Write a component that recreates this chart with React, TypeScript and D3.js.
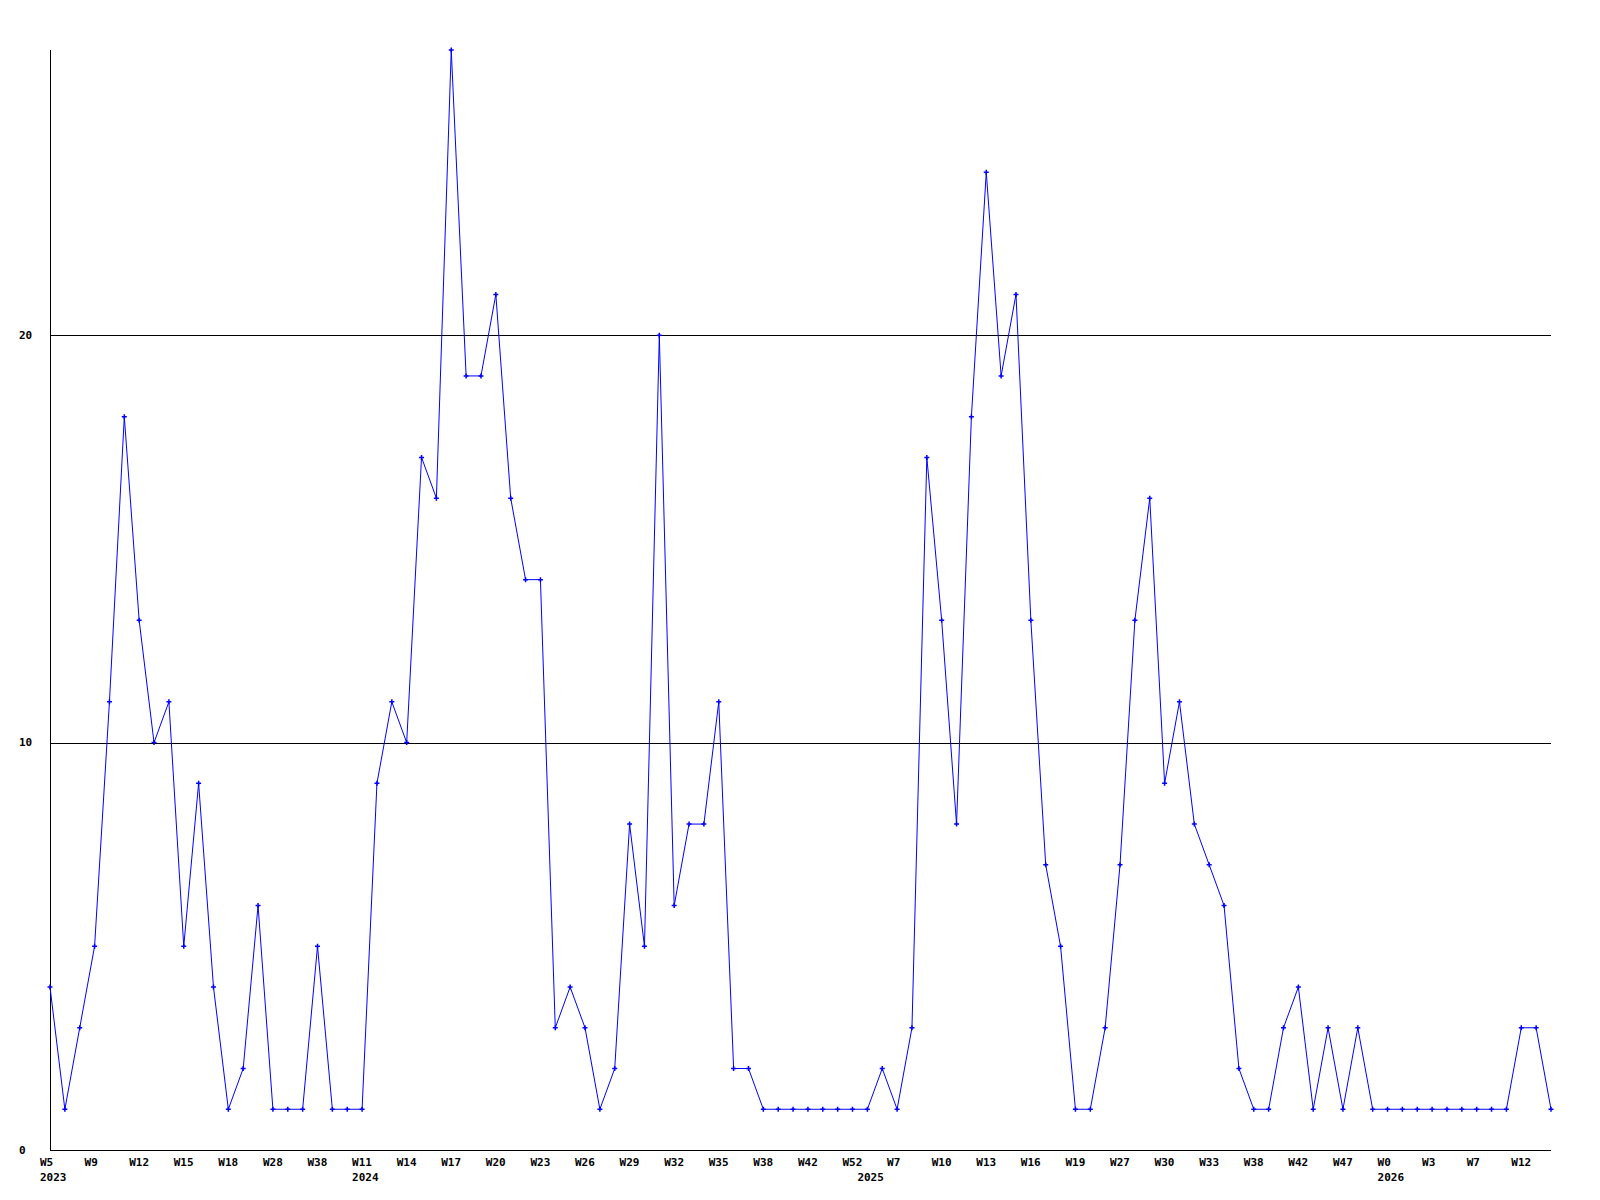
import React from "react";
import * as d3 from "d3";

const values: number[] = [
  4, 1, 3, 5, 11, 18, 13, 10, 11, 5,
  9, 4, 1, 2, 6, 1, 1, 1, 5, 1,
  1, 1, 9, 11, 10, 17, 16, 27, 19, 19,
  21, 16, 14, 14, 3, 4, 3, 1, 2, 8,
  5, 20, 6, 8, 8, 11, 2, 2, 1, 1,
  1, 1, 1, 1, 1, 1, 2, 1, 3, 17,
  13, 8, 18, 24, 19, 21, 13, 7, 5, 1,
  1, 3, 7, 13, 16, 9, 11, 8, 7, 6,
  2, 1, 1, 3, 4, 1, 3, 1, 3, 1,
  1, 1, 1, 1, 1, 1, 1, 1, 1, 3,
  3, 1,
];

const weekTickIndex: number[] = [
  0, 3, 6, 9, 12, 15, 18, 21, 24, 27, 30, 33, 36, 39, 42, 45, 48,
  51, 54, 57, 60, 63, 66, 69, 72, 75, 78, 81, 84, 87, 90, 93, 96, 99,
];
const weekTickLabels: string[] = [
  "W5", "W9", "W12", "W15", "W18", "W28", "W38", "W11", "W14", "W17", "W20",
  "W23", "W26", "W29", "W32", "W35", "W38", "W42", "W52", "W7", "W10", "W13",
  "W16", "W19", "W27", "W30", "W33", "W38", "W42", "W47", "W0", "W3", "W7", "W12",
];
const yearIndex: number[] = [0, 21, 55, 90];
const yearLabels: string[] = ["2023", "2024", "2025", "2026"];
const yTicks: number[] = [0, 10, 20];
const yMax = 27;

export default function App() {
  const W = 1600, H = 1200;
  const left = 50, right = 1551, top = 50, bottom = 1150;
  const x = d3.scaleLinear().domain([0, values.length - 1]).range([left, right]);
  const y = d3.scaleLinear().domain([0, yMax]).range([bottom, top]);
  const line = d3
    .line<number>()
    .x((_, i) => x(i))
    .y((d) => y(d));
  const font = "'DejaVu Sans Mono', 'Liberation Mono', monospace";
  return (
    <svg
      width={W}
      height={H}
      style={{ position: "absolute", left: 0, top: 0, background: "#fff" }}
      xmlns="http://www.w3.org/2000/svg"
    >
      <rect x={0} y={0} width={W} height={H} fill="#fff" />
      {yTicks
        .filter((t) => t > 0)
        .map((t) => (
          <line
            key={"g" + t}
            x1={left}
            x2={right}
            y1={Math.round(y(t)) + 0.5}
            y2={Math.round(y(t)) + 0.5}
            stroke="#000"
            strokeWidth={1}
          />
        ))}
      <line x1={left + 0.5} x2={left + 0.5} y1={top} y2={bottom + 0.5} stroke="#000" strokeWidth={1} />
      <line x1={left} x2={right} y1={bottom + 0.5} y2={bottom + 0.5} stroke="#000" strokeWidth={1} />
      {yTicks.map((t) => (
        <text
          key={"y" + t}
          x={19}
          y={y(t)}
          dy="0.35em"
          fontFamily={font}
          fontWeight="bold"
          fontSize={11}
          fill="#000"
        >
          {t}
        </text>
      ))}
      {weekTickIndex.map((idx, k) => (
        <text
          key={"w" + k}
          x={x(idx) - 10}
          y={1162}
          dy="0.35em"
          fontFamily={font}
          fontWeight="bold"
          fontSize={11}
          fill="#000"
        >
          {weekTickLabels[k]}
        </text>
      ))}
      {yearIndex.map((idx, k) => (
        <text
          key={"yr" + k}
          x={x(idx) - 10}
          y={1177}
          dy="0.35em"
          fontFamily={font}
          fontWeight="bold"
          fontSize={11}
          fill="#000"
        >
          {yearLabels[k]}
        </text>
      ))}
      <path d={line(values) || ""} fill="none" stroke="#0000ff" strokeWidth={1} />
      {values.map((v, i) => {
        const cx = x(i), cy = y(v);
        return (
          <path
            key={"m" + i}
            d={`M${cx - 2.5},${cy} h5 M${cx},${cy - 2.5} v5`}
            stroke="#0000ff"
            strokeWidth={1.5}
            fill="none"
          />
        );
      })}
    </svg>
  );
}
